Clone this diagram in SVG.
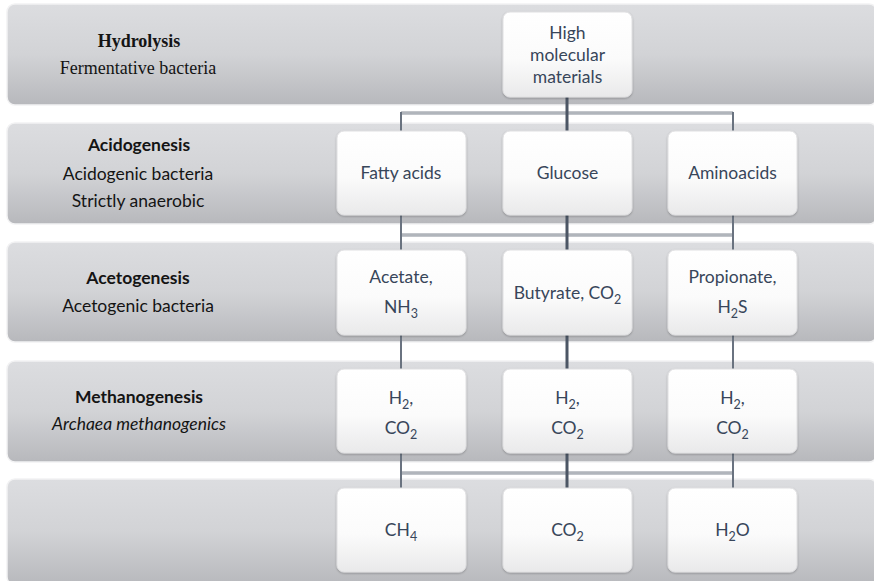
<svg xmlns="http://www.w3.org/2000/svg" width="874" height="581" viewBox="0 0 874 581">
  <defs>
    <linearGradient id="bandFill" x1="0" y1="0" x2="0" y2="1">
      <stop offset="0" stop-color="#dcdde0"/>
      <stop offset="0.5" stop-color="#d2d3d6"/>
      <stop offset="1" stop-color="#b7b8bc"/>
    </linearGradient>
    <linearGradient id="nodeFill" x1="0" y1="0" x2="0" y2="1">
      <stop offset="0" stop-color="#ffffff"/>
      <stop offset="0.55" stop-color="#fbfbfb"/>
      <stop offset="1" stop-color="#e9e9ea"/>
    </linearGradient>
    <filter id="soft" x="-10%" y="-10%" width="120%" height="125%">
      <feGaussianBlur in="SourceAlpha" stdDeviation="1.2"/>
      <feOffset dy="1" result="b"/>
      <feComponentTransfer><feFuncA type="linear" slope="0.25"/></feComponentTransfer>
      <feMerge><feMergeNode/><feMergeNode in="SourceGraphic"/></feMerge>
    </filter>
  </defs>
  <style>
    .band { fill: url(#bandFill); stroke: #f2f2f3; stroke-width: 1.5; }
    .node rect { fill: url(#nodeFill); stroke: #e0e0e2; stroke-width: 1; filter: url(#soft); }
    .nt { font-family: Lato, "Liberation Sans", sans-serif; font-size: 17.5px; fill: #38465a; text-anchor: middle; }
    .sub { font-size: 12.5px; }
    .lt { font-family: Lato, "Liberation Sans", sans-serif; font-size: 17.5px; fill: #141414; text-anchor: middle; }
    .ls { font-family: "Liberation Serif", serif; font-size: 18px; fill: #141414; text-anchor: middle; }
    .b { font-weight: bold; }
    .i { font-style: italic; }
    .vmain { stroke: #4c5665; stroke-width: 3; fill: none; }
    .vside { stroke: #6a7380; stroke-width: 2; fill: none; }
    .hout { stroke: #858c96; stroke-width: 3; fill: none; }
    .hin { stroke: #dcdee1; stroke-width: 1; fill: none; }
  </style>

  <rect width="874" height="581" fill="#ffffff"/>

  <!-- stage bands -->
  <g id="bands">
    <rect class="band" x="7" y="4" width="870" height="101" rx="8"/>
    <rect class="band" x="7" y="123" width="870" height="101" rx="8"/>
    <rect class="band" x="7" y="242" width="870" height="100" rx="8"/>
    <rect class="band" x="7" y="361" width="870" height="101" rx="8"/>
    <rect class="band" x="7" y="479" width="870" height="106" rx="8"/>
  </g>

  <!-- stage labels -->
  <g id="stage-hydrolysis">
    <text class="ls b" x="139" y="47">Hydrolysis</text>
    <text class="ls" x="138" y="74">Fermentative bacteria</text>
  </g>
  <g id="stage-acidogenesis">
    <text class="lt b" x="139" y="151">Acidogenesis</text>
    <text class="lt" x="138" y="180">Acidogenic bacteria</text>
    <text class="lt" x="138" y="207">Strictly anaerobic</text>
  </g>
  <g id="stage-acetogenesis">
    <text class="lt b" x="138" y="284">Acetogenesis</text>
    <text class="lt" x="138" y="312">Acetogenic bacteria</text>
  </g>
  <g id="stage-methanogenesis">
    <text class="lt b" x="139" y="403">Methanogenesis</text>
    <text class="lt i" x="139" y="430">Archaea methanogenics</text>
  </g>

  <!-- connectors -->
  <g id="connectors">
    <path class="hout" d="M401 113 H733 M401 235 H733 M401 473 H733"/>
    <path class="hin" d="M402 113 H732 M402 235 H732 M402 473 H732"/>
    <path class="vmain" d="M567 97 V131 M567 215 V250 M567 335 V369 M567 453 V488"/>
    <path class="vside" d="M401 112 V131 M733 112 V131"/>
    <path class="vside" d="M401 215 V250 M733 215 V250"/>
    <path class="vside" d="M401 335 V369 M733 335 V369"/>
    <path class="vside" d="M401 453 V488 M733 453 V488"/>
  </g>

  <!-- nodes -->
  <g id="node-high" class="node">
    <rect x="503" y="12" width="129" height="85" rx="7"/>
    <text class="nt" x="567.5" y="39">High</text>
    <text class="nt" x="567.5" y="61">molecular</text>
    <text class="nt" x="567.5" y="83">materials</text>
  </g>

  <g id="node-fatty-acids" class="node">
    <rect x="337" y="131" width="129" height="84" rx="7"/>
    <text class="nt" x="401" y="179">Fatty acids</text>
  </g>
  <g id="node-glucose" class="node">
    <rect x="503" y="131" width="129" height="84" rx="7"/>
    <text class="nt" x="567.5" y="179">Glucose</text>
  </g>
  <g id="node-aminoacids" class="node">
    <rect x="668" y="131" width="129" height="84" rx="7"/>
    <text class="nt" x="732.5" y="179">Aminoacids</text>
  </g>

  <g id="node-acetate" class="node">
    <rect x="337" y="250" width="129" height="85" rx="7"/>
    <text class="nt" x="401" y="283">Acetate,</text>
    <text class="nt" x="401" y="313">NH<tspan class="sub" dy="5">3</tspan></text>
  </g>
  <g id="node-butyrate" class="node">
    <rect x="503" y="250" width="129" height="85" rx="7"/>
    <text class="nt" x="567.5" y="299">Butyrate, CO<tspan class="sub" dy="5">2</tspan></text>
  </g>
  <g id="node-propionate" class="node">
    <rect x="668" y="250" width="129" height="85" rx="7"/>
    <text class="nt" x="732.5" y="283">Propionate,</text>
    <text class="nt" x="732.5" y="313">H<tspan class="sub" dy="5">2</tspan><tspan dy="-5">S</tspan></text>
  </g>

  <g id="node-h2co2-1" class="node">
    <rect x="337" y="369" width="129" height="84" rx="7"/>
    <text class="nt" x="401" y="404">H<tspan class="sub" dy="5">2</tspan><tspan dy="-5">,</tspan></text>
    <text class="nt" x="401" y="434">CO<tspan class="sub" dy="5">2</tspan></text>
  </g>
  <g id="node-h2co2-2" class="node">
    <rect x="503" y="369" width="129" height="84" rx="7"/>
    <text class="nt" x="567.5" y="404">H<tspan class="sub" dy="5">2</tspan><tspan dy="-5">,</tspan></text>
    <text class="nt" x="567.5" y="434">CO<tspan class="sub" dy="5">2</tspan></text>
  </g>
  <g id="node-h2co2-3" class="node">
    <rect x="668" y="369" width="129" height="84" rx="7"/>
    <text class="nt" x="732.5" y="404">H<tspan class="sub" dy="5">2</tspan><tspan dy="-5">,</tspan></text>
    <text class="nt" x="732.5" y="434">CO<tspan class="sub" dy="5">2</tspan></text>
  </g>

  <g id="node-ch4" class="node">
    <rect x="337" y="488" width="129" height="84" rx="7"/>
    <text class="nt" x="401" y="536">CH<tspan class="sub" dy="5">4</tspan></text>
  </g>
  <g id="node-co2" class="node">
    <rect x="503" y="488" width="129" height="84" rx="7"/>
    <text class="nt" x="567.5" y="536">CO<tspan class="sub" dy="5">2</tspan></text>
  </g>
  <g id="node-h2o" class="node">
    <rect x="668" y="488" width="129" height="84" rx="7"/>
    <text class="nt" x="732.5" y="536">H<tspan class="sub" dy="5">2</tspan><tspan dy="-5">O</tspan></text>
  </g>
</svg>
